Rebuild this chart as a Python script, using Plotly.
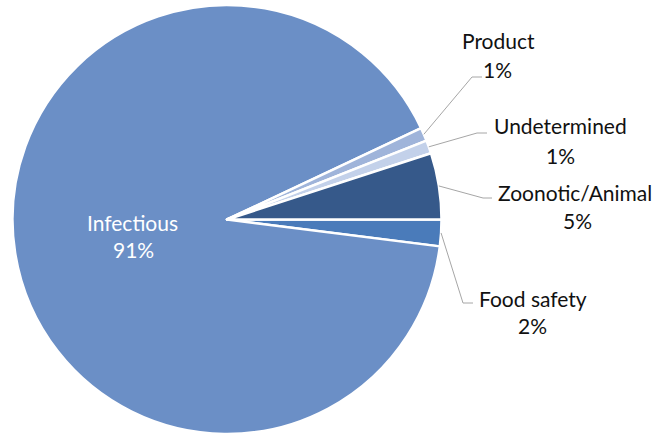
import math
import plotly.graph_objects as go

# Share of cases by category (percent), listed clockwise from 3 o'clock
categories = ["Food safety", "Infectious", "Product", "Undetermined", "Zoonotic/Animal"]
shares = [2, 91, 1, 1, 5]
slice_colors = ["#4a7bba", "#6b8fc6", "#9fb4da", "#c3d1ea", "#36598a"]

W, H = 660, 434
TOP = 5
# pie geometry in pixels (domain below drives it)
R = (H - TOP) / 2
CX, CY = 227, TOP + R

fig = go.Figure(go.Pie(
    labels=categories,
    values=shares,
    sort=False,
    direction="clockwise",
    rotation=90,
    marker=dict(colors=slice_colors, line=dict(color="white", width=2.5)),
    textinfo="none",
    hoverinfo="label+percent",
    showlegend=False,
    domain=dict(x=[(CX - R - 1) / W, (CX + R + 1) / W], y=[0, 1 - TOP / H]),
))


def px(x, y):
    return x / W, 1 - y / H


# mid-angle of every slice in degrees, counter-clockwise from 3 o'clock
total = sum(shares)
mid_angle = {}
start = 0.0
for name, v in zip(categories, shares):
    span = 360 * v / total
    mid_angle[name] = -(start + span / 2)
    start += span
for k in mid_angle:
    if mid_angle[k] < -180:
        mid_angle[k] += 360

# outside labels: elbow point, end of leader, name centre, percent centre
outside = {
    "Product": ((472, 77), (482, 77), (498, 40), (497, 70)),
    "Undetermined": ((477, 133), (487, 133), (560, 126), (560, 155)),
    "Zoonotic/Animal": ((483, 198), (492, 198), (575, 192), (577, 220)),
    "Food safety": ((463, 303), (473, 303), (533, 298), (532, 325)),
}

font_family = "Lato, 'Liberation Sans', sans-serif"
FS = 21
shapes = []
annotations = []


def label(x, y, text, color):
    ax, ay = px(x, y)
    annotations.append(dict(x=ax, y=ay, xref="paper", yref="paper",
                            text=text, showarrow=False,
                            xanchor="center", yanchor="middle",
                            font=dict(family=font_family, size=FS, color=color)))


for name, (elbow, end, name_c, pct_c) in outside.items():
    a = math.radians(mid_angle[name])
    sx, sy = CX + R * math.cos(a), CY - R * math.sin(a)
    x0, y0 = px(sx, sy)
    x1, y1 = px(*elbow)
    x2, y2 = px(*end)
    shapes.append(dict(type="path", xref="paper", yref="paper",
                       path=f"M{x0},{y0} L{x1},{y1} L{x2},{y2}",
                       line=dict(color="#a6a6a6", width=1)))
    pct = round(100 * shares[categories.index(name)] / total)
    label(*name_c, name, "#111111")
    label(*pct_c, f"{pct}%", "#111111")

pct_inf = round(100 * shares[categories.index("Infectious")] / total)
label(132, 222, "Infectious", "white")
label(133, 250, f"{pct_inf}%", "white")

fig.update_layout(
    width=W, height=H,
    margin=dict(l=0, r=0, t=0, b=0),
    paper_bgcolor="white",
    plot_bgcolor="white",
    shapes=shapes,
    annotations=annotations,
)

fig.write_html("out.html")
